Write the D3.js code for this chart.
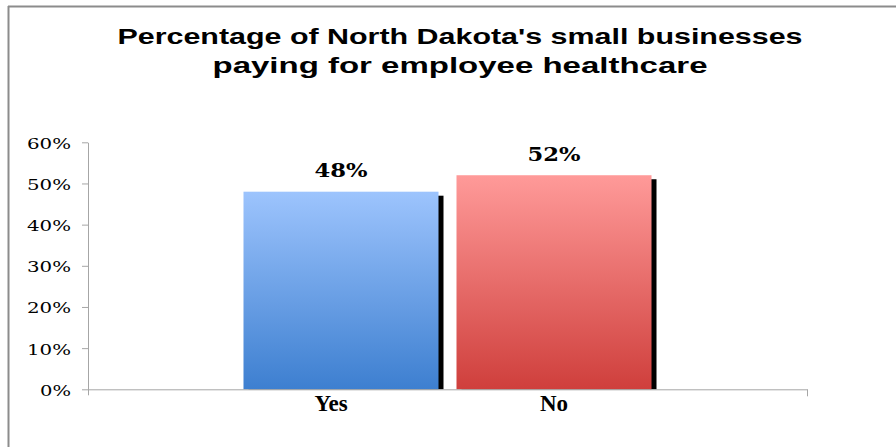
<!DOCTYPE html>
<html>
<head>
<meta charset="utf-8">
<script src="https://cdn.jsdelivr.net/npm/d3@7/dist/d3.min.js"></script>
<style>
  html, body { margin: 0; padding: 0; background: #fff; }
  svg { display: block; }
</style>
</head>
<body>
<svg id="chart" width="896" height="447"></svg>
<script>
const titleLines = ["Percentage of North Dakota's small businesses", "paying for employee healthcare"];
const categories = ["Yes", "No"];
const values = [48, 52];
const valueLabels = ["48%", "52%"];
const yTicks = [0, 10, 20, 30, 40, 50, 60];
const yTickLabels = ["0%", "10%", "20%", "30%", "40%", "50%", "60%"];

const svg = d3.select("#chart");
const W = 896, H = 447;

// outer frame (top & left visible)
svg.append("line").attr("x1", 8).attr("y1", 6.5).attr("x2", W).attr("y2", 6.5)
  .attr("stroke", "#8c8c8c").attr("stroke-width", 2);
svg.append("line").attr("x1", 8.5).attr("y1", 6).attr("x2", 8.5).attr("y2", H)
  .attr("stroke", "#8c8c8c").attr("stroke-width", 2);

// title
const titleW = [685, 495];
const titleY = [44, 73];
titleLines.forEach((t, i) => {
  svg.append("text")
    .attr("x", 460).attr("y", titleY[i])
    .attr("text-anchor", "middle")
    .attr("font-family", "Liberation Sans, Arial, sans-serif")
    .attr("font-weight", "bold")
    .attr("font-size", 22)
    .attr("textLength", titleW[i])
    .attr("lengthAdjust", "spacingAndGlyphs")
    .text(t);
});

const plot = { left: 88, right: 807, top: 142.3, bottom: 389.3 };

const y = d3.scaleLinear().domain([0, 60]).range([plot.bottom, plot.top]);
const x = d3.scaleBand().domain(categories)
  .range([plot.left, plot.right])
  .paddingInner(0.0845).paddingOuter(0.73);

// gradients
const defs = svg.append("defs");
const grads = [
  { id: "gYes", top: "#9dc4fd", bottom: "#3d7fd0" },
  { id: "gNo", top: "#ff9a99", bottom: "#cf3f3c" }
];
grads.forEach(g => {
  const lg = defs.append("linearGradient").attr("id", g.id)
    .attr("x1", 0).attr("y1", 0).attr("x2", 0).attr("y2", 1);
  lg.append("stop").attr("offset", "0%").attr("stop-color", g.top);
  lg.append("stop").attr("offset", "100%").attr("stop-color", g.bottom);
});

// shadows
svg.append("g").selectAll("rect").data(categories).join("rect")
  .attr("x", d => x(d) + 5)
  .attr("y", (d, i) => y(values[i]) + 4)
  .attr("width", x.bandwidth())
  .attr("height", (d, i) => plot.bottom - y(values[i]) - 4)
  .attr("fill", "#000");

// bars
svg.append("g").selectAll("rect").data(categories).join("rect")
  .attr("x", d => x(d))
  .attr("y", (d, i) => y(values[i]))
  .attr("width", x.bandwidth())
  .attr("height", (d, i) => plot.bottom - y(values[i]))
  .attr("fill", (d, i) => `url(#${grads[i].id})`);

// y axis
const yAxis = d3.axisLeft(y).tickValues(yTicks)
  .tickFormat((d, i) => yTickLabels[i]).tickSize(6).tickSizeOuter(0).tickPadding(11);
const gy = svg.append("g").attr("transform", `translate(${plot.left},0)`).call(yAxis);
gy.select(".domain").attr("stroke", "#a6a6a6");
gy.selectAll(".tick line").attr("stroke", "#a6a6a6");
gy.selectAll("text")
  .attr("font-family", "DejaVu Serif, serif")
  .attr("font-size", 15.5)
  .attr("fill", "#000")
  .attr("dy", "0.38em")
  .each(function(d, i) {
    const s = yTickLabels[i];
    d3.select(this).attr("textLength", s.length === 2 ? 31 : 44).attr("lengthAdjust", "spacingAndGlyphs");
  });
// extend y axis below baseline
svg.append("line").attr("x1", plot.left + 0.5).attr("x2", plot.left + 0.5)
  .attr("y1", plot.bottom).attr("y2", plot.bottom + 6).attr("stroke", "#a6a6a6");

// x axis line + end ticks
svg.append("line").attr("x1", plot.left).attr("x2", plot.right + 0.5)
  .attr("y1", plot.bottom + 0.5).attr("y2", plot.bottom + 0.5).attr("stroke", "#a6a6a6");
svg.append("line").attr("x1", plot.right + 0.5).attr("x2", plot.right + 0.5)
  .attr("y1", plot.bottom).attr("y2", plot.bottom + 7).attr("stroke", "#a6a6a6");

// category labels
svg.append("g").selectAll("text").data(categories).join("text")
  .attr("x", (d, i) => x(d) + x.bandwidth() / 2 - (i === 0 ? 10 : 0))
  .attr("y", 411)
  .attr("text-anchor", "middle")
  .attr("font-family", "Liberation Serif, Times New Roman, serif")
  .attr("font-weight", "bold")
  .attr("font-size", 23)
  .text(d => d);

// value labels
svg.append("g").selectAll("text").data(categories).join("text")
  .attr("x", d => x(d) + x.bandwidth() / 2)
  .attr("y", (d, i) => y(values[i]) - 14.5)
  .attr("text-anchor", "middle")
  .attr("font-family", "DejaVu Serif, serif")
  .attr("font-weight", "bold")
  .attr("font-size", 19)
  .attr("textLength", 53)
  .attr("lengthAdjust", "spacingAndGlyphs")
  .text((d, i) => valueLabels[i]);
</script>
</body>
</html>
